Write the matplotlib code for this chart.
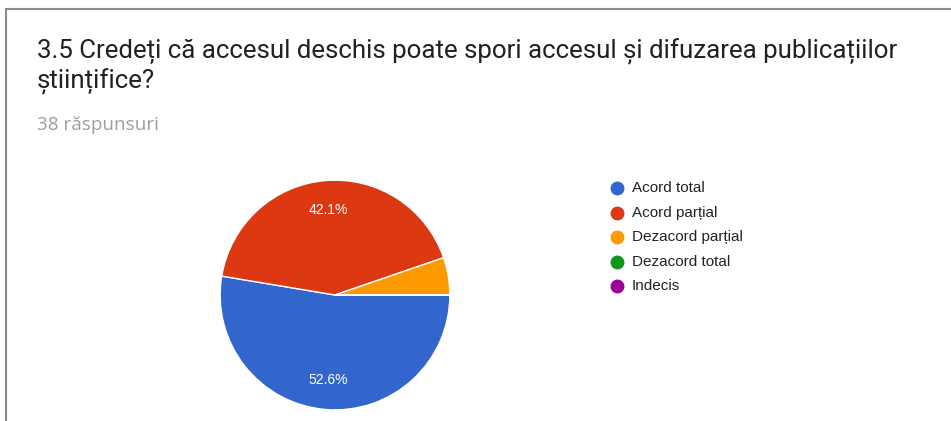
import matplotlib.pyplot as plt
from matplotlib.lines import Line2D

# data
labels = ['Acord total', 'Acord parțial', 'Dezacord parțial', 'Dezacord total', 'Indecis']
counts = [20, 16, 2, 0, 0]
colors = ['#3366cc', '#dc3912', '#ff9900', '#109618', '#990099']
title_lines = ['3.5 Credeți că accesul deschis poate spori accesul și difuzarea publicațiilor',
               'științifice?']
subtitle = '38 răspunsuri'

W, H = 951, 421
fig = plt.figure(figsize=(W / 100, H / 100), dpi=100)

# card border (top and left edges)
fig.add_artist(Line2D([6 / W, 1], [1 - 9 / H, 1 - 9 / H], color='#8a8a8a', lw=1.5))
fig.add_artist(Line2D([6 / W, 6 / W], [0, 1 - 9 / H], color='#8a8a8a', lw=1.5))

for i, line in enumerate(title_lines):
    fig.text(37 / W, 1 - (58 + 30 * i) / H, line, fontsize=18.6, family='Roboto',
             color='#202124', va='baseline')
fig.text(37 / W, 1 - 130 / H, subtitle, fontsize=13.6, family='Open Sans', color='#9e9e9e',
         va='baseline')

# pie: center (335, 295), radius 116 px
cx, cy, r = 335, 295, 116
ax = fig.add_axes([(cx - r) / W, (H - cy - r) / H, 2 * r / W, 2 * r / H])


def fmt(p):
    return f'{p:.1f}%' if p >= 10 else ''


wedges, texts, autotexts = ax.pie(counts, colors=colors, startangle=0, counterclock=False,
                                  autopct=fmt, pctdistance=0.74,
                                  wedgeprops=dict(edgecolor='white', linewidth=1))
for t in autotexts:
    t.set_color('white')
    t.set_fontsize(10)
    t.set_family('Liberation Sans')
ax.set_xlim(-1.01, 1.01)
ax.set_ylim(-1.01, 1.01)
ax.set_aspect('equal')
ax.axis('off')

# legend
for i, (lab, col) in enumerate(zip(labels, colors)):
    y = 1 - (188 + i * 24.5) / H
    fig.add_artist(Line2D([617 / W], [y], marker='o', markersize=9, color=col, lw=0))
    fig.text(632 / W, y, lab, fontsize=11, family='Liberation Sans', color='#222222',
             va='center')

plt.savefig('out.png', dpi=100, facecolor='white')
